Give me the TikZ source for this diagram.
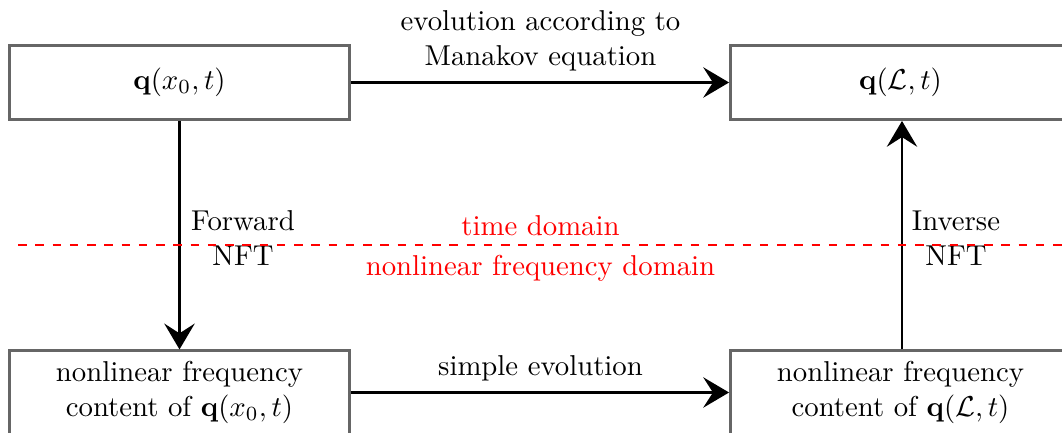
\documentclass[tikz,border=0pt]{standalone}
\usetikzlibrary{arrows.meta}
\begin{document}
\begin{tikzpicture}[x=0.3478pt, y=-0.3478pt,
  blockbox/.style={draw=black!60, line width=1.05pt, minimum width=118.2pt, align=center, inner sep=0pt},
  flow/.style={line width=0.7pt, -{Stealth[length=9pt, width=10.6pt, inset=3.4pt]}},
  redmark/.style={red, text=red},
  lbl/.style={align=center, inner sep=0pt}]
  \useasboundingbox (0,0) rectangle (1062,433);
  \clip (0,0) rectangle (1062,433);

  % the four blocks
  \node[blockbox, minimum height=25.7pt] (tl) at (179.5,82.5) {$\mathbf{q}(x_0,t)$};
  \node[blockbox, minimum height=25.7pt] (tr) at (900.5,82.5) {$\mathbf{q}(\mathcal{L},t)$};
  \node[blockbox, minimum height=28.9pt] (bl) at (179.5,392.5) {nonlinear frequency\\content of $\mathbf{q}(x_0,t)$};
  \node[blockbox, minimum height=28.9pt] (br) at (900.5,392.5) {nonlinear frequency\\content of $\mathbf{q}(\mathcal{L},t)$};

  % transitions between the blocks
  \draw[flow] (tl.east) -- (tr.west);
  \draw[flow] (bl.east) -- (br.west);
  \draw[flow] (tl.south) -- (bl.north);
  \draw[flow] (br.north -| 902,0) -- (tr.south -| 902,0);

  % transition labels
  \node[lbl] (evol) at (540.5,41) {evolution according to\\Manakov equation};
  \node[lbl] (simple) at (540.5,368) {simple evolution};
  \node[lbl] (fwd) at (243,238) {Forward\\NFT};
  \node[lbl] (inv) at (956,238) {Inverse\\NFT};

  % boundary between the two domains
  \coordinate (dl) at (18,245);
  \coordinate (dr) at (1070,245);
  \draw[redmark, dashed, line width=0.9pt] (dl) -- (dr);
  \node[redmark, inner sep=0pt] (td) at (540.5,226) {time domain};
  \node[redmark, inner sep=0pt] (fd) at (540.5,268) {nonlinear frequency domain};
\end{tikzpicture}
\end{document}
